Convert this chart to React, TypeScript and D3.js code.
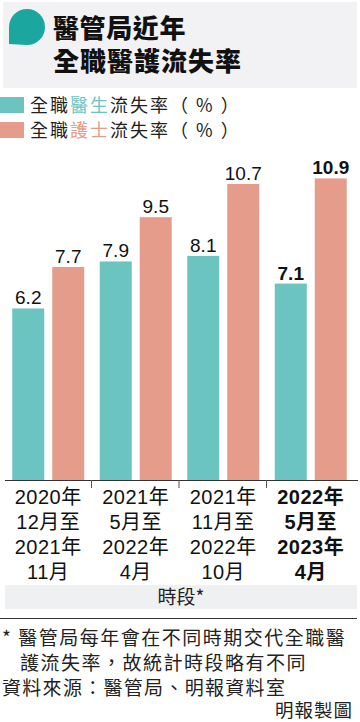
import React from "react";
import * as d3 from "d3";

const categories = ["c1", "c2", "c3", "c4"];
const categoryLabels: string[][] = [
  ["2020年", "12月至", "2021年", "11月"],
  ["2021年", "5月至", "2022年", "4月"],
  ["2021年", "11月至", "2022年", "10月"],
  ["2022年", "5月至", "2023年", "4月"],
];
const doctorRates = [6.2, 7.9, 8.1, 7.1];
const nurseRates = [7.7, 9.5, 10.7, 10.9];
const seriesKeys = ["doctor", "nurse"];
const highlightIndex = 3;

const TEAL = "#6cc4c0";
const SALMON = "#e69c8a";
const CJK = "'Noto Sans CJK TC', 'Noto Sans CJK SC', sans-serif";
const NUM = "'Liberation Sans', Arial, 'Noto Sans CJK TC', sans-serif";

export default function App() {
  const W = 360;
  const H = 722;
  const x0 = d3.scaleBand<string>().domain(categories).range([4.5, 354.5]).padding(0);
  const x1 = d3
    .scaleBand<string>()
    .domain(seriesKeys)
    .range([0, x0.bandwidth()])
    .paddingInner(0.2)
    .paddingOuter(0.194);
  const y = d3.scaleLinear().domain([0, 12]).range([480, 148]);
  const colors = d3.scaleOrdinal<string, string>().domain(seriesKeys).range([TEAL, SALMON]);
  const values: Record<string, number[]> = { doctor: doctorRates, nurse: nurseRates };

  return (
    <svg
      width={W}
      height={H}
      style={{ position: "absolute", left: 0, top: 0, display: "block", background: "#fff" }}
    >
      {/* title block */}
      <rect x={3} y={2} width={354} height={86} fill="#f2f2f4" />
      <path d="M 9 44 L 9 27 A 18 18 0 1 1 27 45 Z" fill="#1ba79f" />
      <text x={53} y={38} fontFamily={CJK} fontWeight={900} fontSize={26} letterSpacing={0.6} fill="#111">
        醫管局近年
      </text>
      <text x={53} y={71} fontFamily={CJK} fontWeight={900} fontSize={26} letterSpacing={1} fill="#111">
        全職醫護流失率
      </text>

      {/* legend */}
      <rect x={0} y={97} width={24} height={16} fill={TEAL} />
      <text x={30} y={112} fontFamily={CJK} fontSize={18} letterSpacing={2} fill="#222">
        全職<tspan fill={TEAL}>醫生</tspan>流失率（ % ）
      </text>
      <rect x={0} y={122} width={24} height={16} fill={SALMON} />
      <text x={30} y={137} fontFamily={CJK} fontSize={18} letterSpacing={2} fill="#222">
        全職<tspan fill={SALMON}>護士</tspan>流失率（ % ）
      </text>

      {/* bars */}
      {categories.map((c, i) => (
        <g key={c} transform={`translate(${x0(c)},0)`}>
          {seriesKeys.map((k) => {
            const v = values[k][i];
            const bx = x1(k) as number;
            return (
              <g key={k}>
                <rect x={bx} y={y(v)} width={x1.bandwidth()} height={y(0) - y(v)} fill={colors(k)} />
                <text
                  x={bx + x1.bandwidth() / 2}
                  y={y(v) - 4}
                  textAnchor="middle"
                  fontFamily={NUM}
                  fontSize={19}
                  fontWeight={i === highlightIndex ? 700 : 400}
                  fill="#111"
                >
                  {v.toFixed(1)}
                </text>
              </g>
            );
          })}
        </g>
      ))}

      {/* axis */}
      <line x1={5} x2={358} y1={480.5} y2={480.5} stroke="#333" strokeWidth={1} />
      {categories.slice(1).map((c) => (
        <line
          key={c}
          x1={(x0(c) as number) - 0.5}
          x2={(x0(c) as number) - 0.5}
          y1={480}
          y2={488}
          stroke="#555"
          strokeWidth={1}
        />
      ))}
      {categories.map((c, i) => (
        <text
          key={c}
          textAnchor="middle"
          fontFamily={NUM}
          fontSize={20}
          letterSpacing={0.5}
          fontWeight={i === highlightIndex ? 700 : 400}
          fill="#111"
        >
          {categoryLabels[i].map((l, j) => (
            <tspan key={j} x={(x0(c) as number) + x0.bandwidth() / 2} y={504 + j * 25}>
              {l}
            </tspan>
          ))}
        </text>
      ))}

      {/* axis title box */}
      <rect x={5} y={585} width={352} height={24} fill="#eff0f2" />
      <text x={181} y={604} textAnchor="middle" fontFamily={CJK} fontSize={19} fill="#222">
        時段*
      </text>
      <line x1={0} x2={357} y1={618.5} y2={618.5} stroke="#333" strokeWidth={1} />

      {/* footnotes */}
      <text x={2} y={645} fontFamily={CJK} fontSize={19} letterSpacing={1.5} fill="#222">
        * 醫管局每年會在不同時期交代全職醫
      </text>
      <text x={20} y={670} fontFamily={CJK} fontSize={19} letterSpacing={1.5} fill="#222">
        護流失率，故統計時段略有不同
      </text>
      <text x={2} y={695} fontFamily={CJK} fontSize={19} letterSpacing={1.3} fill="#222">
        資料來源：醫管局、明報資料室
      </text>
      <text x={353} y={717} textAnchor="end" fontFamily={CJK} fontSize={18.5} letterSpacing={1} fill="#222">
        明報製圖
      </text>
    </svg>
  );
}
